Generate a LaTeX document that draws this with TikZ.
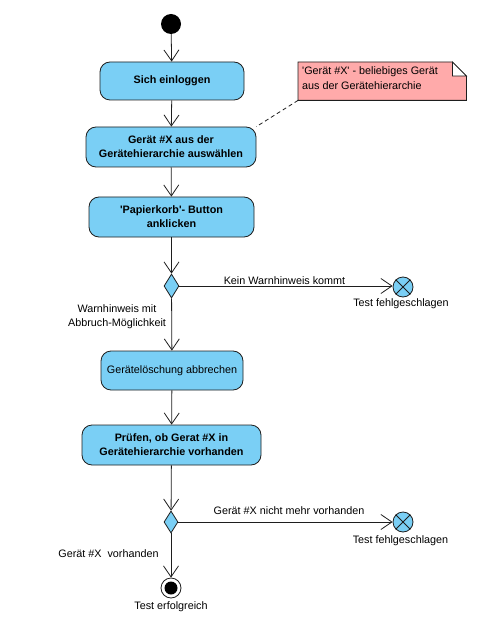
\documentclass[tikz,border=0pt]{standalone}
\usepackage{fontspec}
\setmainfont{Liberation Sans}
\usetikzlibrary{arrows.meta,shapes.geometric}
\definecolor{actblue}{RGB}{122,207,245}
\definecolor{notepink}{RGB}{255,170,170}
\definecolor{linec}{RGB}{30,30,30}
\tikzset{
  act/.style={draw=linec, line width=0.8pt, fill=actblue, rounded corners=10pt, align=center, inner sep=0pt, font=\fontsize{10.8}{14}\selectfont},
  actb/.style={act, font=\fontsize{10.8}{14}\selectfont\bfseries},
  flow/.style={draw=linec, line width=0.8pt, -{Straight Barb[length=11pt,width=15pt,line width=0.8pt]}},
  dec/.style={diamond, draw=linec, line width=0.8pt, fill=actblue, inner sep=0pt},
  ffin/.style={circle, draw=linec, line width=0.8pt, fill=actblue, minimum size=20pt, inner sep=0pt},
  lbl/.style={font=\fontsize{10.8}{14}\selectfont, inner sep=0pt, align=center},
}
\begin{document}
\begin{tikzpicture}[x=1pt,y=-1pt]
\useasboundingbox (0,0) rectangle (488,620);
\node[circle, fill=black, minimum size=20pt, inner sep=0pt] (start) at (171,24) {};
\node[actb, minimum width=144pt, minimum height=38pt] (b1) at (172,81) {Sich einloggen};
\node[actb, minimum width=170pt, minimum height=40pt] (b2) at (171,147) {Gerät \#X aus der\\Gerätehierarchie auswählen};
\node[actb, minimum width=165pt, minimum height=40pt] (b3) at (171.5,217) {\textquotesingle Papierkorb\textquotesingle- Button\\anklicken};
\node[dec, minimum width=15pt, minimum height=24pt] (d1) at (171.5,286) {};
\node[ffin] (ff1) at (403,287) {};
\draw[linec, line width=0.8pt] (ff1.45) -- (ff1.225) (ff1.135) -- (ff1.315);
\node[act, minimum width=142pt, minimum height=39pt] (b4) at (172,370.5) {Gerätelöschung abbrechen};
\node[actb, minimum width=179pt, minimum height=40pt] (b5) at (171.5,445) {Prüfen, ob Gerat \#X in\\Gerätehierarchie vorhanden};
\node[dec, minimum width=14pt, minimum height=22pt] (d2) at (171,522) {};
\node[ffin] (ff2) at (403,522) {};
\draw[linec, line width=0.8pt] (ff2.45) -- (ff2.225) (ff2.135) -- (ff2.315);
\node[circle, draw=linec, line width=0.8pt, fill=white, minimum size=20pt, inner sep=0pt,
  path picture={\fill[black] (path picture bounding box.center) circle (6.5pt);}] (end) at (171,588) {};
% note
\node[lbl, anchor=north west, align=left, minimum width=168pt, minimum height=38pt, text depth=0pt, inner sep=0pt] (note) at (298,62) {};
\draw[linec, line width=0.8pt, fill=notepink] (note.north west) -- ([xshift=-14pt]note.north east) -- ([yshift=-14pt]note.north east) -- (note.south east) -- (note.south west) -- cycle;
\draw[linec, line width=0.8pt, fill=white] ([xshift=-14pt]note.north east) -- ([xshift=-14pt,yshift=-14pt]note.north east) -- ([yshift=-14pt]note.north east) -- cycle;
\node[lbl, anchor=north west, align=left, font=\fontsize{10.8}{15}\selectfont] (notetext) at (302,66) {\textquotesingle Gerät \#X\textquotesingle\ - beliebiges Gerät\\aus der Gerätehierarchie};
\draw[linec, line width=0.8pt, dashed, dash pattern=on 4pt off 3pt] (note.south west) -- (b2.north east);
% flows
\draw[flow] (start) -- (b1);
\draw[flow] (b1) -- (b2);
\draw[flow] (b2) -- (b3);
\draw[flow] (b3) -- (d1);
\draw[flow] (d1) -- (b4);
\draw[flow] (b4) -- (b5);
\draw[flow] (b5) -- (d2);
\draw[flow] (d2) -- (end);
\draw[flow] (d1.east) -- (ff1.west |- d1.east);
\draw[flow] (d2.east) -- (ff2);
% labels
\node[lbl] (l1) at (284.5,281) {Kein Warnhinweis kommt};
\node[lbl] (t1) at (401,304) {Test fehlgeschlagen};
\node[lbl] (l2) at (117,317) {Warnhinweis mit\\Abbruch-Möglichkeit};
\node[lbl] (l3) at (289,511) {Gerät \#X nicht mehr vorhanden};
\node[lbl] (t2) at (400.5,541) {Test fehlgeschlagen};
\node[lbl] (l4) at (108.5,554) {Gerät \#X\ \ vorhanden};
\node[lbl] (t3) at (171,607) {Test erfolgreich};
\end{tikzpicture}
\end{document}
